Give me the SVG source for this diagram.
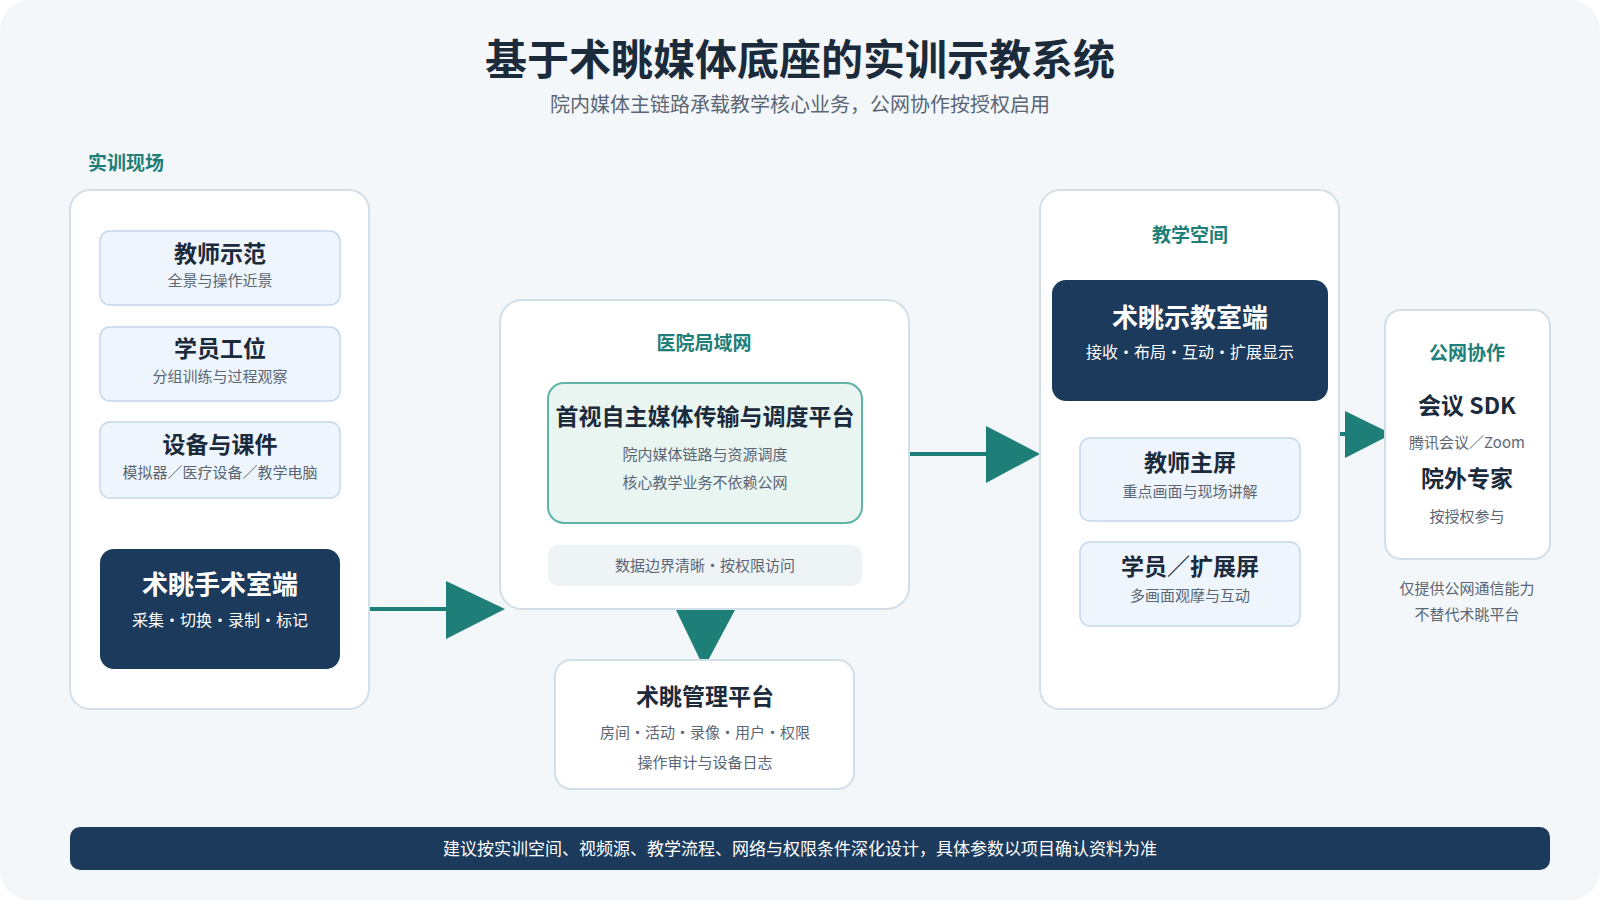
<svg xmlns="http://www.w3.org/2000/svg" width="1600" height="900" viewBox="0 0 1600 900">
<style>
text{font-family:"Noto Sans CJK SC","Noto Sans",sans-serif;text-anchor:middle}
.panel{fill:#fff;stroke:#d3dfe8;stroke-width:2}
.card{fill:#eef5fc;stroke:#c5d8ea;stroke-width:1.5}
.dark{fill:#1b3a5c}
.sec{fill:#1e7f78;font-size:19px;font-weight:700}
.ct{fill:#1b2b3c;font-size:23px;font-weight:700}
.cs{fill:#5a6675;font-size:15px}
.wt{fill:#fff;font-size:26px;font-weight:700}
.ws{fill:#fff;font-size:16px}
.ar{fill:#1e7f78}
.al{stroke:#1e7f78;stroke-width:4;fill:none}
</style>
<rect x="0" y="0" width="1600" height="900" rx="30" fill="#f3f7fa"/>
<text x="800" y="75" font-size="42" font-weight="700" fill="#1b2b3c">基于术眺媒体底座的实训示教系统</text>
<text x="800" y="112" font-size="20" fill="#5a6675">院内媒体主链路承载教学核心业务，公网协作按授权启用</text>
<g id="connectors">
<line class="al" x1="369" y1="609" x2="450" y2="609"/><polygon class="ar" points="446,581 505,609 446,639"/>
<line class="al" x1="909" y1="454" x2="990" y2="454"/><polygon class="ar" points="986,426 1040,454 986,483"/>
<polygon class="ar" points="676,610 735,610 704,668"/>
<line class="al" x1="1339" y1="434" x2="1348" y2="434"/><polygon class="ar" points="1345,411 1392,434 1345,458"/>
</g>
<g id="site">
<text class="sec" x="126" y="170">实训现场</text>
<rect class="panel" x="70" y="190" width="299" height="519" rx="20"/>
<g id="teacher"><rect class="card" x="100" y="231" width="240" height="74" rx="10"/><text class="ct" x="220" y="262">教师示范</text><text class="cs" x="220" y="286">全景与操作近景</text></g>
<g id="student"><rect class="card" x="100" y="327" width="240" height="74" rx="10"/><text class="ct" x="220" y="357">学员工位</text><text class="cs" x="220" y="382">分组训练与过程观察</text></g>
<g id="device"><rect class="card" x="100" y="422" width="240" height="76" rx="10"/><text class="ct" x="220" y="453">设备与课件</text><text class="cs" x="220" y="478">模拟器／医疗设备／教学电脑</text></g>
<g id="or"><rect class="dark" x="100" y="549" width="240" height="120" rx="14"/><text class="wt" x="220" y="594">术眺手术室端</text><text class="ws" x="220" y="626">采集・切换・录制・标记</text></g>
</g>
<g id="lan">
<rect class="panel" x="500" y="300" width="409" height="309" rx="22" stroke="#a9d3cb"/>
<text class="sec" x="704" y="350">医院局域网</text>
<rect x="548" y="383" width="314" height="140" rx="16" fill="#e8f5f1" stroke="#5fb5a5" stroke-width="2"/>
<text x="705" y="425" font-size="23" font-weight="700" fill="#1b2b3c">首视自主媒体传输与调度平台</text>
<text class="cs" x="705" y="460" font-size="16">院内媒体链路与资源调度</text>
<text class="cs" x="705" y="488" font-size="16">核心教学业务不依赖公网</text>
<rect x="548" y="545" width="314" height="41" rx="10" fill="#eef3f6"/>
<text class="cs" x="705" y="571">数据边界清晰・按权限访问</text>
</g>
<g id="mgmt">
<rect class="panel" x="555" y="660" width="299" height="129" rx="16"/>
<text class="ct" x="705" y="705">术眺管理平台</text>
<text class="cs" x="705" y="738" font-size="16">房间・活动・录像・用户・权限</text>
<text class="cs" x="705" y="768" font-size="16">操作审计与设备日志</text>
</g>
<g id="space">
<rect class="panel" x="1040" y="190" width="299" height="519" rx="20"/>
<text class="sec" x="1190" y="242">教学空间</text>
<g id="classroom"><rect class="dark" x="1052" y="280" width="276" height="121" rx="14"/><text class="wt" x="1190" y="327">术眺示教室端</text><text class="ws" x="1190" y="358">接收・布局・互动・扩展显示</text></g>
<g id="main"><rect class="card" x="1080" y="438" width="220" height="83" rx="10"/><text class="ct" x="1190" y="471">教师主屏</text><text class="cs" x="1190" y="497">重点画面与现场讲解</text></g>
<g id="ext"><rect class="card" x="1080" y="542" width="220" height="84" rx="10"/><text class="ct" x="1190" y="575">学员／扩展屏</text><text class="cs" x="1190" y="601">多画面观摩与互动</text></g>
</g>
<g id="public">
<rect class="panel" x="1385" y="310" width="165" height="249" rx="16" stroke="#bcd0e4"/>
<text class="sec" x="1467" y="360">公网协作</text>
<text class="ct" x="1467" y="414">会议 SDK</text>
<text class="cs" x="1467" y="448">腾讯会议／Zoom</text>
<text class="ct" x="1467" y="487">院外专家</text>
<text class="cs" x="1467" y="522">按授权参与</text>
<text class="cs" x="1467" y="594">仅提供公网通信能力</text>
<text class="cs" x="1467" y="620">不替代术眺平台</text>
</g>
<g id="footer">
<rect class="dark" x="70" y="827" width="1480" height="43" rx="10"/>
<text x="800" y="855" font-size="17" fill="#fff">建议按实训空间、视频源、教学流程、网络与权限条件深化设计，具体参数以项目确认资料为准</text>
</g>
</svg>
